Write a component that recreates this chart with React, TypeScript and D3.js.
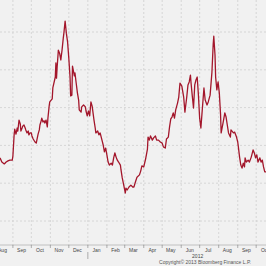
import * as d3 from 'd3'

// daily-ish samples
const dates = [
  '2011-08-11', '2011-08-14', '2011-08-18', '2011-08-21', '2011-08-24', '2011-08-27', '2011-08-31', '2011-09-01', '2011-09-03', '2011-09-04',
  '2011-09-06', '2011-09-08', '2011-09-09', '2011-09-11', '2011-09-13', '2011-09-14', '2011-09-16', '2011-09-17', '2011-09-19', '2011-09-21',
  '2011-09-22', '2011-09-24', '2011-09-26', '2011-09-27', '2011-09-29', '2011-10-01', '2011-10-02', '2011-10-04', '2011-10-07', '2011-10-09',
  '2011-10-10', '2011-10-12', '2011-10-14', '2011-10-15', '2011-10-17', '2011-10-18', '2011-10-20', '2011-10-22', '2011-10-23', '2011-10-25',
  '2011-10-27', '2011-10-28', '2011-10-30', '2011-10-31', '2011-11-04', '2011-11-05', '2011-11-09', '2011-11-10', '2011-11-11', '2011-11-12',
  '2011-11-14', '2011-11-16', '2011-11-18', '2011-11-20', '2011-11-22', '2011-11-23', '2011-11-25', '2011-11-27', '2011-11-29', '2011-12-01',
  '2011-12-03', '2011-12-04', '2011-12-06', '2011-12-07', '2011-12-10', '2011-12-11', '2011-12-13', '2011-12-15', '2011-12-17', '2011-12-18',
  '2011-12-21', '2011-12-22', '2011-12-25', '2011-12-28', '2011-12-29', '2011-12-31', '2012-01-02', '2012-01-04', '2012-01-06', '2012-01-08',
  '2012-01-11', '2012-01-13', '2012-01-14', '2012-01-17', '2012-01-19', '2012-01-21', '2012-01-24', '2012-01-26', '2012-01-28', '2012-01-30',
  '2012-02-01', '2012-02-03', '2012-02-05', '2012-02-08', '2012-02-10', '2012-02-12', '2012-02-14', '2012-02-16', '2012-02-18', '2012-02-20',
  '2012-02-23', '2012-02-24', '2012-02-26', '2012-02-29', '2012-03-02', '2012-03-03', '2012-03-05', '2012-03-08', '2012-03-11', '2012-03-14',
  '2012-03-16', '2012-03-18', '2012-03-21', '2012-03-25', '2012-03-27', '2012-03-29', '2012-04-01', '2012-04-04', '2012-04-07', '2012-04-08',
  '2012-04-10', '2012-04-12', '2012-04-15', '2012-04-17', '2012-04-20', '2012-04-22', '2012-04-25', '2012-04-28', '2012-05-01', '2012-05-03',
  '2012-05-06', '2012-05-08', '2012-05-11', '2012-05-13', '2012-05-15', '2012-05-17', '2012-05-19', '2012-05-21', '2012-05-23', '2012-05-26',
  '2012-05-28', '2012-05-30', '2012-06-02', '2012-06-05', '2012-06-07', '2012-06-10', '2012-06-12', '2012-06-14', '2012-06-16', '2012-06-17',
  '2012-06-19', '2012-06-21', '2012-06-23', '2012-06-25', '2012-06-27', '2012-06-29', '2012-07-01', '2012-07-03', '2012-07-06', '2012-07-08',
  '2012-07-10', '2012-07-13', '2012-07-15', '2012-07-18', '2012-07-21', '2012-07-23', '2012-07-24', '2012-07-26', '2012-07-27', '2012-07-29',
  '2012-07-31', '2012-08-02', '2012-08-04', '2012-08-05', '2012-08-08', '2012-08-11', '2012-08-13', '2012-08-15', '2012-08-17', '2012-08-20',
  '2012-08-21', '2012-08-24', '2012-08-25', '2012-08-27', '2012-08-30', '2012-09-01', '2012-09-02', '2012-09-04', '2012-09-06', '2012-09-08',
  '2012-09-10', '2012-09-12', '2012-09-13', '2012-09-15', '2012-09-18', '2012-09-20', '2012-09-23', '2012-09-26', '2012-09-28', '2012-09-30',
  '2012-10-02', '2012-10-04', '2012-10-07', '2012-10-09', '2012-10-11', '2012-10-13', '2012-10-15', '2012-10-17'
]

const values = [
  3.67, 3.56, 3.51, 3.56, 3.59, 3.61, 3.61, 3.72, 4.28, 4.43,
  4.30, 4.46, 4.38, 4.67, 4.57, 4.38, 4.46, 4.51, 4.54, 4.46,
  4.41, 4.33, 4.38, 4.28, 4.33, 4.33, 4.25, 4.17, 4.09, 4.06,
  4.14, 4.30, 4.41, 4.54, 4.65, 4.72, 4.62, 4.65, 4.59, 4.67,
  4.49, 4.72, 5.04, 5.15, 5.23, 5.52, 5.81, 6.18, 5.78, 6.07,
  6.52, 6.44, 6.26, 6.52, 6.84, 6.97, 7.29, 6.97, 6.74, 6.31,
  5.81, 5.31, 5.33, 6.10, 5.84, 5.92, 5.65, 5.39, 5.20, 4.94,
  4.88, 5.02, 5.07, 5.02, 4.91, 4.78, 4.91, 4.78, 5.15, 5.04,
  4.67, 4.46, 4.33, 4.38, 4.28, 4.33, 4.14, 4.01, 3.83, 3.93,
  3.75, 3.56, 3.48, 3.53, 3.48, 3.67, 3.80, 3.69, 3.61, 3.56,
  3.48, 3.35, 3.14, 2.90, 2.74, 2.87, 2.82, 2.90, 2.95, 2.90,
  2.90, 3.01, 3.16, 3.22, 3.32, 3.46, 3.43, 3.64, 3.90, 4.22,
  4.14, 4.25, 4.14, 4.20, 4.25, 4.14, 4.14, 4.09, 4.06, 3.96,
  3.93, 4.17, 4.22, 4.49, 4.70, 4.75, 4.86, 4.72, 4.94, 5.12,
  5.28, 5.65, 5.57, 5.28, 4.88, 5.28, 5.60, 5.68, 5.86, 5.65,
  5.31, 4.99, 5.60, 5.73, 5.81, 5.33, 4.72, 4.46, 5.10, 5.52,
  5.20, 5.07, 5.15, 5.33, 5.94, 6.66, 6.89, 6.39, 5.81, 5.47,
  5.68, 5.39, 4.83, 4.33, 4.59, 4.86, 4.75, 4.54, 4.33, 4.22,
  4.41, 4.35, 4.33, 4.35, 4.22, 4.09, 3.96, 3.69, 3.48, 3.40,
  3.53, 3.43, 3.67, 3.56, 3.61, 3.56, 3.69, 3.88, 3.80, 3.67,
  3.75, 3.56, 3.67, 3.56, 3.61, 3.43, 3.30, 3.30
]

const gridValues = [2, 3, 4, 5, 6, 7]
const yearLabels = ['2012']
const copyright = 'Copyright\u00a9 2013 Bloomberg Finance L.P.'

const W = 266
const H = 266
const plotBottom = 245

export default function App() {
  const parse = d3.timeParse('%Y-%m-%d')
  const data = dates.map((d, i) => ({ date: parse(d) as Date, value: values[i] }))

  const start = new Date(2011, 7, 11)
  const end = new Date(2012, 9, 17)
  const x = d3.scaleTime().domain([start, end]).range([0, W])
  const y = d3.scaleLinear().domain([1.365, 7.847]).range([plotBottom, 0])

  const line = d3.line<{ date: Date; value: number }>()
    .x(d => x(d.date))
    .y(d => y(d.value))

  const monthStarts = d3.timeMonth.range(d3.timeMonth.ceil(start), end)
  const monthLabels = d3.timeMonth.range(d3.timeMonth.floor(start), end)
  const fmt = d3.timeFormat('%b')
  const yearTicks = d3.timeYear.range(d3.timeYear.ceil(start), end)

  const font = 'Liberation Sans, Arial, sans-serif'

  return (
    <svg width={W} height={H} style={{ position: 'absolute', left: 0, top: 0 }}>
      <rect width={W} height={H} fill="#f1f1f1" />
      {/* horizontal grid */}
      {gridValues.map(v => (
        <line key={v} x1={0} x2={W} y1={y(v)} y2={y(v)}
          stroke="#cfcfcf" strokeWidth={0.8} strokeDasharray="2,2" />
      ))}
      {/* vertical grid at month boundaries */}
      {monthStarts.map(m => (
        <line key={+m} x1={x(m)} x2={x(m)} y1={0} y2={plotBottom + 3}
          stroke="#cfcfcf" strokeWidth={0.8} strokeDasharray="2,2" />
      ))}
      <line x1={0} x2={W} y1={plotBottom} y2={plotBottom} stroke="#b5b5b5" strokeWidth={0.8} />
      {monthStarts.map(m => (
        <line key={'t' + +m} x1={x(m)} x2={x(m)} y1={plotBottom} y2={plotBottom + 3}
          stroke="#9a9a9a" strokeWidth={0.8} />
      ))}
      {monthLabels.map(m => (
        <text key={'l' + +m} x={x(d3.timeDay.offset(m, 14))} y={251.8}
          textAnchor="middle" fontFamily={font} fontSize={5} fill="#444">
          {fmt(m)}
        </text>
      ))}
      {yearTicks.map(t => (
        <line key={'y' + +t} x1={x(t)} x2={x(t)} y1={252} y2={259}
          stroke="#9a9a9a" strokeWidth={0.8} />
      ))}
      {yearLabels.map(lbl => (
        <text key={lbl} x={x(new Date(+lbl, 6, 1)) - 2} y={257.8}
          textAnchor="middle" fontFamily={font} fontSize={5} fill="#444">
          {lbl}
        </text>
      ))}
      <text x={251} y={264} textAnchor="end" fontFamily={font} fontSize={5} fill="#555">
        {copyright}
      </text>
      <path d={line(data) ?? ''} fill="none" stroke="#a3162b" strokeWidth={1.3}
        strokeLinejoin="round" />
    </svg>
  )
}
